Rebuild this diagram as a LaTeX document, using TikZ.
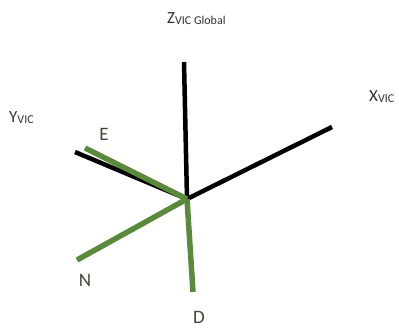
\documentclass[tikz,border=0pt]{standalone}
\usepackage{fontspec}
\setmainfont{Carlito}
\definecolor{bodygreen}{HTML}{5A8A3C}
\definecolor{labeltext}{HTML}{2E332E}
\definecolor{bodytext}{HTML}{3B4A30}
\tikzset{
  axisline/.style={draw=black,line width=4.5pt},
  bodyline/.style={draw=bodygreen,line width=5.5pt},
  axislabel/.style={font=\fontsize{17}{19}\selectfont,text=labeltext,inner sep=0pt,anchor=base west},
  bodylabel/.style={font=\fontsize{19}{21}\selectfont,text=bodytext,inner sep=0pt,anchor=base}
}
\newcommand{\axsub}[1]{\raisebox{-0.2ex}{\fontsize{12}{13}\selectfont #1}}

\begin{document}
\begin{tikzpicture}[x=1pt,y=-1pt]
\useasboundingbox (0,0) rectangle (399,327);
% vehicle frame
\coordinate (o) at (187,199);
\coordinate (zend) at (184,62);
\coordinate (xend) at (332,127);
\coordinate (yend) at (75,152);
\draw[axisline] (o)--(zend);
\draw[axisline] (o)--(xend);
\draw[axisline] (o)--(yend);
% body frame
\coordinate (eend) at (85,148);
\coordinate (nend) at (77,260);
\coordinate (dend) at (193,292);
\draw[bodyline] (eend)--(o);
\draw[bodyline] (nend)--(o);
\draw[bodyline] (o)--(dend);
% labels
\node[axislabel] (zlab) at (167,23) {Z\axsub{VIC Global}};
\node[axislabel] (xlab) at (369,101) {X\axsub{VIC}};
\node[axislabel] (ylab) at (9,122) {Y\axsub{VIC}};
\node[bodylabel] (elab) at (104,140) {E};
\node[bodylabel] (nlab) at (85,286) {N};
\node[bodylabel] (dlab) at (199,323) {D};
\end{tikzpicture}
\end{document}
